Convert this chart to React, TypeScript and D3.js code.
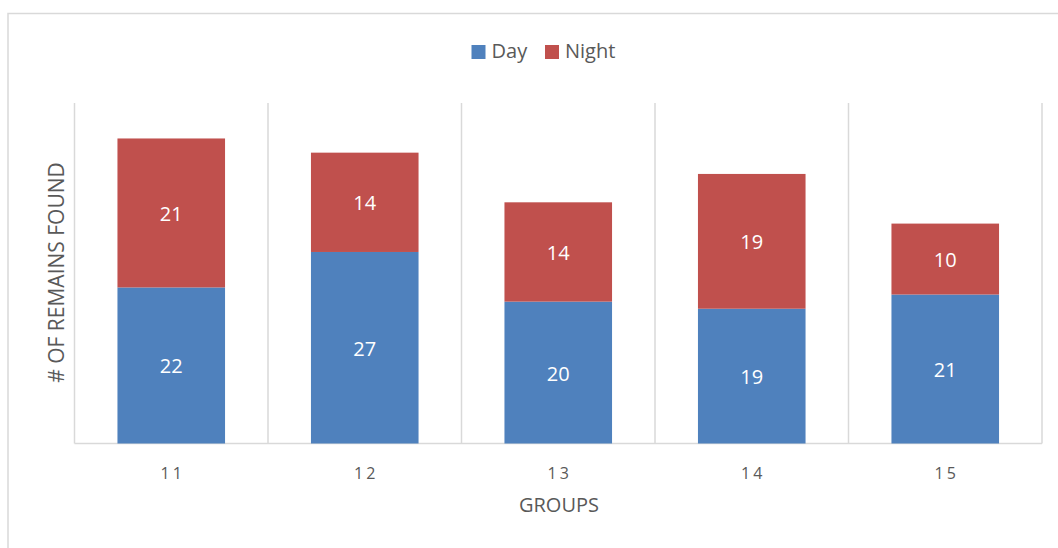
import React from "react";
import * as d3 from "d3";

const groups = ["11", "12", "13", "14", "15"];
const dayValues = [22, 27, 20, 19, 21];
const nightValues = [21, 14, 14, 19, 10];
const seriesNames = ["Day", "Night"];
const seriesColors = ["#4F81BD", "#C0504D"];

const W = 1058;
const H = 548;
const plot = { left: 74.5, right: 1042, top: 103, bottom: 443.5 };
const FONT = "'Open Sans', 'Liberation Sans', sans-serif";

export default function App() {
  const x = d3
    .scaleBand<string>()
    .domain(groups)
    .range([plot.left, plot.right])
    .paddingInner(0.444)
    .paddingOuter(0.222);
  const y = d3.scaleLinear().domain([0, 48]).range([plot.bottom, plot.top]);

  const rows = groups.map((g, i) => ({ group: g, Day: dayValues[i], Night: nightValues[i] }));
  const stacked = d3.stack<any>().keys(seriesNames)(rows);

  const step = (plot.right - plot.left) / groups.length;
  const gridXs = d3.range(groups.length + 1).map((i) => plot.left + i * step);

  return (
    <svg width={W} height={H} style={{ position: "absolute", left: 0, top: 0 }}>
      <rect x={8} y={13.5} width={W + 20} height={H + 20} fill="#fff" stroke="#D9D9D9" strokeWidth={1.5} />
      {gridXs.map((gx, i) => (
        <line key={i} x1={gx} x2={gx} y1={plot.top} y2={plot.bottom} stroke="#D9D9D9" strokeWidth={1.5} />
      ))}
      <line x1={plot.left} x2={plot.right} y1={plot.bottom} y2={plot.bottom} stroke="#D9D9D9" strokeWidth={1.5} />
      {stacked.map((layer, si) =>
        layer.map((d, i) => {
          const x0 = x(groups[i])!;
          const yTop = y(d[1]);
          const yBot = y(d[0]);
          const value = d[1] - d[0];
          return (
            <g key={`${si}-${i}`}>
              <rect x={x0} y={yTop} width={x.bandwidth()} height={yBot - yTop} fill={seriesColors[si]} />
              <text
                x={x0 + x.bandwidth() / 2}
                y={(yTop + yBot) / 2 + 1}
                dy="0.35em"
                textAnchor="middle"
                fill="#fff"
                fontFamily={FONT}
                fontSize={20}
              >
                {value}
              </text>
            </g>
          );
        })
      )}
      {groups.map((g) => (
        <text
          key={g}
          x={x(g)! + x.bandwidth() / 2 + 1.5}
          y={479}
          textAnchor="middle"
          fill="#595959"
          fontFamily={FONT}
          fontSize={16}
          letterSpacing={3}
        >
          {g}
        </text>
      ))}
      <text x={559} y={512} textAnchor="middle" fill="#595959" fontFamily={FONT} fontSize={20}>
        GROUPS
      </text>
      <text
        transform={`translate(64, 272.5) rotate(-90)`}
        textAnchor="middle"
        fill="#595959"
        fontFamily={FONT}
        fontSize={21}
      >
        # OF REMAINS FOUND
      </text>
      {seriesNames.map((name, i) => {
        const lx = [471.5, 545][i];
        return (
          <g key={name}>
            <rect x={lx} y={45} width={14} height={14} fill={seriesColors[i]} />
            <text x={lx + 20} y={58} fill="#595959" fontFamily={FONT} fontSize={20}>
              {name}
            </text>
          </g>
        );
      })}
    </svg>
  );
}
